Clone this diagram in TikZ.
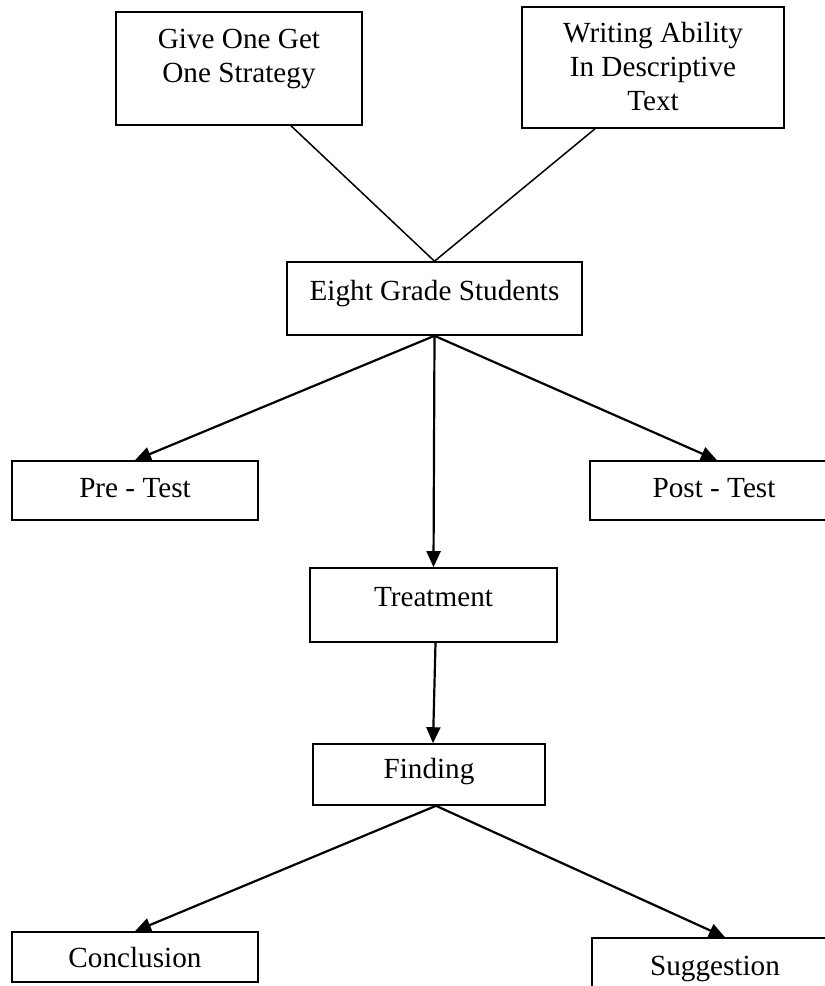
\documentclass[tikz,border=0pt]{standalone}
\usepackage{fontspec}
\setmainfont{Liberation Serif}
\usetikzlibrary{arrows.meta}

\tikzset{
  box/.style={draw, line width=1.6pt, inner sep=0pt, align=center, anchor=base,
    font=\fontsize{29.2}{34}\selectfont},
  link/.style={line width=1.5pt},
  arr/.style={line width=2.2pt, -{Triangle[length=16pt,width=14pt]}}
}

\begin{document}
\begin{tikzpicture}[x=1pt,y=-1pt]
  \useasboundingbox (0,0) rectangle (825,986);
  \clip (0,0) rectangle (825,986);

  % top boxes (base = last line)
  \node[box, minimum width=246pt, text height=70pt, text depth=43pt] (give) at (239,82) {Give One Get\\One Strategy};
  \node[box, minimum width=262pt, text height=103pt, text depth=18pt] (writing) at (653,110) {Writing Ability\\In Descriptive\\Text};

  \node[box, minimum width=295pt, text height=38pt, text depth=35pt] (students) at (434.5,300) {Eight Grade Students};

  \node[box, minimum width=246pt, text height=36pt, text depth=23pt] (pre) at (135,497) {Pre - Test};
  \node[box, minimum width=248pt, text height=36pt, text depth=23pt] (post) at (714,497) {Post - Test};

  \node[box, minimum width=247pt, text height=38pt, text depth=36pt] (treat) at (433.5,606) {Treatment};
  \node[box, minimum width=232pt, text height=34pt, text depth=27pt] (find) at (429,778) {Finding};

  \node[box, minimum width=246pt, text height=35pt, text depth=15pt] (concl) at (135,967) {Conclusion};
  \node[box, minimum width=246pt, text height=37pt, text depth=30pt] (sugg) at (715,975) {Suggestion};

  % connectors
  \draw[link] ([xshift=52pt]give.south) -- (students.north);
  \draw[link] ([xshift=-58pt]writing.south) -- (students.north);

  \draw[arr] (students.south) -- (pre.north);
  \draw[arr] (students.south) -- ([xshift=3pt]post.north);
  \draw[arr] (students.south) -- (treat.north);
  \draw[arr] ([xshift=2pt]treat.south) -- ([xshift=4pt]find.north);

  \draw[arr] ([xshift=7pt]find.south) -- (concl.north);
  \draw[arr] ([xshift=7pt]find.south) -- ([xshift=10pt]sugg.north);
\end{tikzpicture}
\end{document}
